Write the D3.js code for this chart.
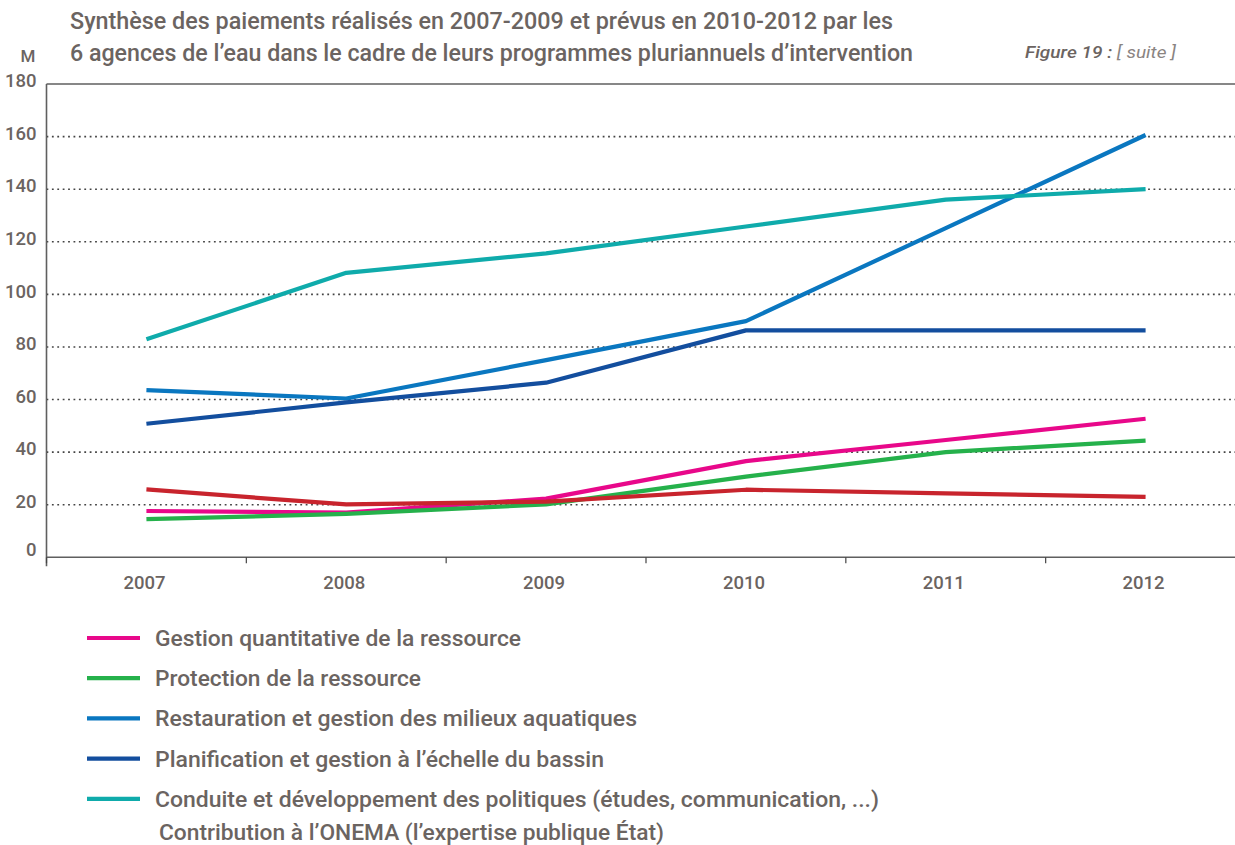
<!DOCTYPE html>
<html lang="fr">
<head>
<meta charset="utf-8">
<script src="https://cdn.jsdelivr.net/npm/d3@7"></script>
<style>
  html, body { margin: 0; padding: 0; background: #fff; }
  svg { display: block; }
  text { font-family: "Roboto", "Liberation Sans", sans-serif; font-weight: 500; fill: #6b6461; }
</style>
</head>
<body>
<div id="chart"></div>
<script>
// Paiements des agences de l'eau, en millions d'euros
const years = ["2007", "2008", "2009", "2010", "2011", "2012"];

const gestionQuantitative = [17.6, 17.0, 22.3, 36.6, 44.6, 52.7];
const protection          = [14.5, 16.5, 20.1, 30.7, 40.0, 44.4];
const restauration        = [63.6, 60.4, 75.0, 89.8, 125.2, 160.6];
const planification       = [50.8, 58.9, 66.4, 86.3, 86.3, 86.3];
const conduite            = [82.9, 108.2, 115.6, 125.8, 136.0, 140.0];
const onema               = [25.8, 20.1, 21.2, 25.7, 24.3, 23.0];

const yTicks = [0, 20, 40, 60, 80, 100, 120, 140, 160, 180];

const titleLines = [
  "Synthèse des paiements réalisés en 2007-2009 et prévus en 2010-2012 par les",
  "6 agences de l\u2019eau dans le cadre de leurs programmes pluriannuels d\u2019intervention"
];
const unitLabel = "M";

const series = [
  { name: "Gestion quantitative de la ressource", values: gestionQuantitative, color: "#e8088a", legend: true },
  { name: "Protection de la ressource", values: protection, color: "#25b14b", legend: true },
  { name: "Restauration et gestion des milieux aquatiques", values: restauration, color: "#0a77c0", legend: true },
  { name: "Planification et gestion à l\u2019échelle du bassin", values: planification, color: "#134e9e", legend: true },
  { name: "Conduite et développement des politiques (études, communication, ...)", values: conduite, color: "#0fabab", legend: true },
  { name: "Contribution à l\u2019ONEMA (l\u2019expertise publique État)", values: onema, color: "#c8242d", legend: false }
];

const W = 1235, H = 845;
const svg = d3.select("#chart").append("svg").attr("width", W).attr("height", H);
svg.append("rect").attr("width", W).attr("height", H).attr("fill", "#fff");

const plotLeft = 46.5, plotRight = 1245.5, plotTop = 84, plotBottom = 557.3;

const x = d3.scaleBand().domain(years).range([plotLeft, plotRight]);
const y = d3.scaleLinear().domain([0, 180]).range([plotBottom, plotTop]);

// Title
const title = svg.append("g");
titleLines.forEach((t, i) => {
  title.append("text")
    .attr("x", 70).attr("y", 28.5 + i * 32)
    .attr("font-size", 23)
    .attr("textLength", i === 0 ? 823 : 843)
    .attr("lengthAdjust", "spacingAndGlyphs")
    .text(t);
});

// Figure reference
const fig = svg.append("text")
  .attr("x", 1025).attr("y", 58)
  .attr("font-size", 17).attr("font-style", "italic")
  .attr("textLength", 151).attr("lengthAdjust", "spacingAndGlyphs");
fig.append("tspan").attr("font-weight", 500).attr("fill", "#6b6461").text("Figure 19 : ");
fig.append("tspan").attr("font-weight", 400).attr("fill", "#8a8482").text("[ suite ]");

// Unit
svg.append("text").attr("x", 28).attr("y", 62)
  .attr("text-anchor", "middle").attr("font-size", 17).text(unitLabel);

// Horizontal dotted gridlines
svg.append("g").selectAll("line")
  .data(yTicks.filter(v => v > 0 && v < 180))
  .join("line")
  .attr("x1", plotLeft).attr("x2", W)
  .attr("y1", d => y(d)).attr("y2", d => y(d))
  .attr("stroke", "#444").attr("stroke-width", 1.6)
  .attr("stroke-dasharray", "1.8,3.6");

// Top frame line
svg.append("line")
  .attr("x1", plotLeft).attr("x2", W).attr("y1", y(180)).attr("y2", y(180))
  .attr("stroke", "#5f5f5f").attr("stroke-width", 1.6);

// Y axis
const yAxis = d3.axisLeft(y).tickValues(yTicks).tickSize(0).tickPadding(10);
const gy = svg.append("g").attr("transform", `translate(${plotLeft},0)`).call(yAxis);
gy.select(".domain").attr("stroke", "#5f5f5f").attr("stroke-width", 1.6)
  .attr("d", `M0,${plotTop}V${plotBottom + 9}`);
gy.selectAll(".tick text")
  .attr("font-size", 18.5).attr("fill", "#6b6461")
  .attr("font-family", null)
  .attr("x", -10)
  .attr("dy", d => d === 0 ? "-0.1em" : "0.15em");

// X axis with ticks at band boundaries
const gx = svg.append("g").attr("transform", `translate(0,${plotBottom})`);
gx.append("line").attr("x1", plotLeft).attr("x2", W).attr("y1", 0).attr("y2", 0)
  .attr("stroke", "#5f5f5f").attr("stroke-width", 1.6);
gx.selectAll("line.tick")
  .data(years)
  .join("line").attr("class", "tick")
  .attr("x1", d => x(d)).attr("x2", d => x(d))
  .attr("y1", 0).attr("y2", 6)
  .attr("stroke", "#444").attr("stroke-width", 1.2);
gx.selectAll("text")
  .data(years)
  .join("text")
  .attr("x", d => x(d) + x.bandwidth() / 2 - 2)
  .attr("y", 31.5)
  .attr("text-anchor", "middle")
  .attr("font-size", 18.5)
  .text(d => d);

// Series lines
const line = d3.line()
  .x((d, i) => x(years[i]) + x.bandwidth() / 2)
  .y(d => y(d));

svg.append("g").selectAll("path")
  .data(series)
  .join("path")
  .attr("d", d => line(d.values))
  .attr("fill", "none")
  .attr("stroke", d => d.color)
  .attr("stroke-width", 4.2)
  .attr("stroke-linejoin", "round");

// Legend (the last entry has no swatch and sits a little tighter)
const legendWidths = [366, 266, 482, 449, 724, 505];
const lg = svg.append("g");
series.forEach((s, i) => {
  const ly = s.legend ? 638 + i * 40.2 : 832;
  if (s.legend) {
    lg.append("line")
      .attr("x1", 87).attr("x2", 140).attr("y1", ly).attr("y2", ly)
      .attr("stroke", s.color).attr("stroke-width", 4.2);
  }
  lg.append("text")
    .attr("x", s.legend ? 155 : 159)
    .attr("y", ly + 8)
    .attr("font-size", 22.5)
    .attr("textLength", legendWidths[i])
    .attr("lengthAdjust", "spacingAndGlyphs")
    .text(s.name);
});
</script>
</body>
</html>
